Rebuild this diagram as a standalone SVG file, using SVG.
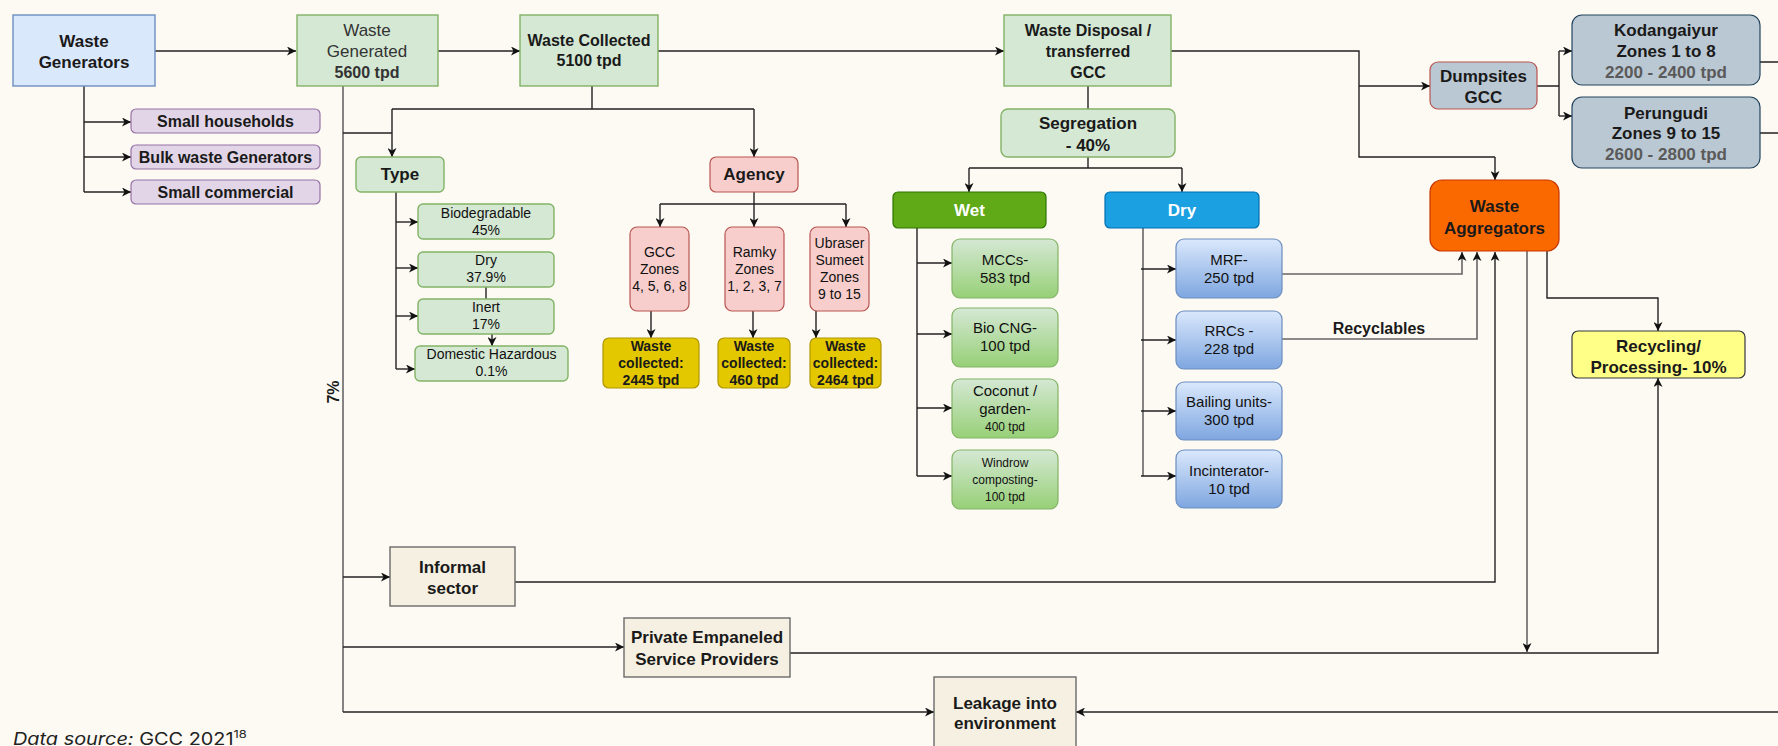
<svg xmlns="http://www.w3.org/2000/svg" width="1778" height="746" viewBox="0 0 1778 746">
<defs>
<marker id="ah" markerUnits="userSpaceOnUse" markerWidth="10" markerHeight="9" refX="9" refY="4.5" orient="auto">
<path d="M0,0 L9,4.5 L0,9 L2.5,4.5 z" fill="#111"/>
</marker>
<linearGradient id="gGreen" x1="0" y1="0" x2="0" y2="1">
<stop offset="0" stop-color="#d5e8d4"/><stop offset="1" stop-color="#97d077"/>
</linearGradient>
<linearGradient id="gBlue" x1="0" y1="0" x2="0" y2="1">
<stop offset="0" stop-color="#dae8fc"/><stop offset="1" stop-color="#7ea6e0"/>
</linearGradient>
<style>
text{font-family:"Liberation Sans",Arial,sans-serif;text-anchor:middle;fill:#1a1a1a}
.b{font-weight:bold}
.f17{font-size:17px}.f16{font-size:16px}.f15{font-size:15px}.f14{font-size:14px}.f12{font-size:12px}
.ln{fill:none;stroke:#222;stroke-width:1.4}
.lg{fill:none;stroke:#666;stroke-width:1.6}
.arr{marker-end:url(#ah)}
.blue{fill:#dae8fc;stroke:#6c8ebf;stroke-width:1.4}
.green{fill:#d5e8d4;stroke:#82b366;stroke-width:1.4}
.purple{fill:#e1d5e7;stroke:#9673a6;stroke-width:1.2}
.pink{fill:#f8cecc;stroke:#b85450;stroke-width:1.2}
.yel{fill:#e3c800;stroke:#b09500;stroke-width:1.2}
.gg{fill:url(#gGreen);stroke:#82b366;stroke-width:1.2}
.gb{fill:url(#gBlue);stroke:#6c8ebf;stroke-width:1.2}
.slate{fill:#bac8d3;stroke:#23445d;stroke-width:1.2}
.beige{fill:#f5f0e1;stroke:#6a6a6a;stroke-width:1.4}
.w{fill:#fff}
.grey{fill:#5a5a5a}
.dk{fill:#111}
</style>
</defs>
<rect x="0" y="0" width="1778" height="746" fill="#fdfaf3"/>

<g id="connectors">
<path class="ln arr" d="M155,51 H296"/>
<path class="ln arr" d="M438,51 H520"/>
<path class="ln arr" d="M658,51 H1004"/>
<path class="ln" d="M84,86 V192"/>
<path class="ln arr" d="M84,122 H131"/>
<path class="ln arr" d="M84,157 H131"/>
<path class="ln arr" d="M84,192 H131"/>
<path class="ln" d="M592,86 V109 M392,109 H754"/>
<path class="ln arr" d="M392,109 V157"/>
<path class="ln arr" d="M754,109 V157"/>
<path class="lg" d="M343,86 V712"/>
<path class="ln arr" d="M343,712 H934"/>
<path class="ln" d="M343,133 H392"/>
<path class="ln arr" d="M343,577 H390"/>
<path class="ln arr" d="M343,647 H624"/>
<path class="ln" d="M396,192 V369"/>
<path class="ln arr" d="M396,222 H418"/>
<path class="ln arr" d="M396,268 H418"/>
<path class="ln arr" d="M396,316 H418"/>
<path class="ln arr" d="M396,369 H415"/>
<path class="ln" d="M486,287 V299"/>
<path class="ln arr" d="M492,334 V346"/>
<path class="ln" d="M754,192 V204 M660,204 H846"/>
<path class="ln arr" d="M660,204 V227"/>
<path class="ln arr" d="M754,204 V227"/>
<path class="ln arr" d="M846,204 V227"/>
<path class="ln arr" d="M651,311 V338"/>
<path class="ln arr" d="M753,311 V338"/>
<path class="ln arr" d="M816,311 V338"/>
<path class="ln" d="M1088,86 V109"/>
<path class="ln" d="M1088,157 V168 M969,168 H1182"/>
<path class="ln arr" d="M969,168 V192"/>
<path class="ln arr" d="M1182,168 V192"/>
<path class="ln" d="M917,228 V476"/>
<path class="ln arr" d="M917,263 H952"/>
<path class="ln arr" d="M917,334 H952"/>
<path class="ln arr" d="M917,408 H952"/>
<path class="ln arr" d="M917,476 H952"/>
<path class="lg" d="M1143,228 V476"/>
<path class="ln arr" d="M1141,269 H1176"/>
<path class="ln arr" d="M1141,340 H1176"/>
<path class="ln arr" d="M1141,411 H1176"/>
<path class="ln arr" d="M1141,476 H1176"/>
<path class="lg arr" d="M1282,274 H1462 V252"/>
<path class="lg arr" d="M1282,339 H1477 V252"/>
<path class="ln" d="M1171,51 H1359 V157 H1495"/>
<path class="ln arr" d="M1495,157 V180"/>
<path class="ln arr" d="M1359,86 H1430"/>
<path class="ln" d="M1537,86 H1559 M1559,51 V116"/>
<path class="ln arr" d="M1559,51 H1572"/>
<path class="ln arr" d="M1559,116 H1572"/>
<path class="ln" d="M1760,62 H1778 M1760,133 H1778"/>
<path class="ln arr" d="M515,582 H1495 V252"/>
<path class="lg arr" d="M1527,251 V652"/>
<path class="ln arr" d="M1547,251 V298 H1658 V331"/>
<path class="ln arr" d="M790,653 H1658 V378"/>
<path class="ln arr" d="M1778,712 H1076"/>
<text class="b f16" x="1379" y="334">Recyclables</text>
<text class="b f16" transform="translate(339,392) rotate(-90)">7%</text>
</g>

<g id="waste-generators"><rect class="blue" x="13" y="15" width="142" height="71"/>
<text class="b f17" x="84" y="47">Waste</text><text class="b f17" x="84" y="68">Generators</text></g>
<g id="small-households"><rect class="purple" x="131" y="109" width="189" height="24" rx="5"/><text class="b f16" x="225.5" y="127">Small households</text></g>
<g id="bulk-waste"><rect class="purple" x="131" y="145" width="189" height="24" rx="5"/><text class="b f16" x="225.5" y="163">Bulk waste Generators</text></g>
<g id="small-commercial"><rect class="purple" x="131" y="180" width="189" height="24" rx="5"/><text class="b f16" x="225.5" y="198">Small commercial</text></g>

<g id="waste-generated"><rect class="green" x="297" y="15" width="141" height="71"/>
<text class="f17" x="367" y="36" style="fill:#333">Waste</text><text class="f17" x="367" y="57" style="fill:#333">Generated</text><text class="b f16" x="367" y="78" style="fill:#333">5600 tpd</text></g>
<g id="waste-collected"><rect class="green" x="520" y="15" width="138" height="71"/>
<text class="b f16" x="589" y="46">Waste Collected</text><text class="b f16" x="589" y="66">5100 tpd</text></g>

<g id="type"><rect class="green" x="356" y="157" width="88" height="35" rx="5"/><text class="b f17" x="400" y="180">Type</text></g>
<g id="biodegradable"><rect class="green" x="418" y="204" width="136" height="35" rx="5"/><text class="f14 dk" x="486" y="218">Biodegradable</text><text class="f14 dk" x="486" y="235">45%</text></g>
<g id="dry-type"><rect class="green" x="418" y="252" width="136" height="35" rx="5"/><text class="f14 dk" x="486" y="265">Dry</text><text class="f14 dk" x="486" y="282">37.9%</text></g>
<g id="inert"><rect class="green" x="418" y="299" width="136" height="35" rx="5"/><text class="f14 dk" x="486" y="312">Inert</text><text class="f14 dk" x="486" y="329">17%</text></g>
<g id="domestic-hazardous"><rect class="green" x="415" y="346" width="153" height="35" rx="5"/><text class="f14 dk" x="491.5" y="359">Domestic Hazardous</text><text class="f14 dk" x="491.5" y="376">0.1%</text></g>

<g id="agency"><rect class="pink" x="710" y="157" width="88" height="35" rx="6"/><text class="b f17" x="754" y="180">Agency</text></g>
<g id="gcc-zones"><rect class="pink" x="630" y="227" width="59" height="84" rx="7"/><text class="f14 dk" x="659.5" y="257">GCC</text><text class="f14 dk" x="659.5" y="274">Zones</text><text class="f14 dk" x="659.5" y="291">4, 5, 6, 8</text></g>
<g id="ramky-zones"><rect class="pink" x="725" y="227" width="59" height="84" rx="7"/><text class="f14 dk" x="754.5" y="257">Ramky</text><text class="f14 dk" x="754.5" y="274">Zones</text><text class="f14 dk" x="754.5" y="291">1, 2, 3, 7</text></g>
<g id="ubraser-zones"><rect class="pink" x="810" y="227" width="59" height="84" rx="7"/><text class="f14 dk" x="839.5" y="248">Ubraser</text><text class="f14 dk" x="839.5" y="265">Sumeet</text><text class="f14 dk" x="839.5" y="282">Zones</text><text class="f14 dk" x="839.5" y="299">9 to 15</text></g>
<g id="gcc-collected"><rect class="yel" x="603" y="338" width="96" height="50" rx="6"/><text class="b f14" x="651" y="351">Waste</text><text class="b f14" x="651" y="368">collected:</text><text class="b f14" x="651" y="385">2445 tpd</text></g>
<g id="ramky-collected"><rect class="yel" x="718" y="338" width="72" height="50" rx="6"/><text class="b f14" x="754" y="351">Waste</text><text class="b f14" x="754" y="368">collected:</text><text class="b f14" x="754" y="385">460 tpd</text></g>
<g id="ubraser-collected"><rect class="yel" x="810" y="338" width="71" height="50" rx="6"/><text class="b f14" x="845.5" y="351">Waste</text><text class="b f14" x="845.5" y="368">collected:</text><text class="b f14" x="845.5" y="385">2464 tpd</text></g>

<g id="waste-disposal"><rect class="green" x="1004" y="15" width="167" height="71"/>
<text class="b f16" x="1088" y="36">Waste Disposal /</text><text class="b f16" x="1088" y="57">transferred</text><text class="b f16" x="1088" y="78">GCC</text></g>
<g id="segregation"><rect class="green" x="1001" y="109" width="174" height="48" rx="7"/><text class="b f17" x="1088" y="129">Segregation</text><text class="b f17" x="1088" y="151">- 40%</text></g>
<g id="wet"><rect x="893" y="192" width="153" height="36" rx="5" fill="#60a917" stroke="#2d7600" stroke-width="1.2"/><text class="b f17 w" x="969.5" y="216">Wet</text></g>
<g id="dry"><rect x="1105" y="192" width="154" height="36" rx="5" fill="#1ba1e2" stroke="#006eaf" stroke-width="1.2"/><text class="b f17 w" x="1182" y="216">Dry</text></g>

<g id="mccs"><rect class="gg" x="952" y="239" width="106" height="59" rx="8"/><text class="f15 dk" x="1005" y="265">MCCs-</text><text class="f15 dk" x="1005" y="283">583 tpd</text></g>
<g id="bio-cng"><rect class="gg" x="952" y="308" width="106" height="59" rx="8"/><text class="f15 dk" x="1005" y="333">Bio CNG-</text><text class="f15 dk" x="1005" y="351">100 tpd</text></g>
<g id="coconut"><rect class="gg" x="952" y="379" width="106" height="59" rx="8"/><text class="f15 dk" x="1005" y="396">Coconut /</text><text class="f15 dk" x="1005" y="414">garden-</text><text class="f12 dk" x="1005" y="431">400 tpd</text></g>
<g id="windrow"><rect class="gg" x="952" y="450" width="106" height="59" rx="8"/><text class="f12 dk" x="1005" y="467">Windrow</text><text class="f12 dk" x="1005" y="484">composting-</text><text class="f12 dk" x="1005" y="501">100 tpd</text></g>

<g id="mrf"><rect class="gb" x="1176" y="239" width="106" height="59" rx="8"/><text class="f15 dk" x="1229" y="265">MRF-</text><text class="f15 dk" x="1229" y="283">250 tpd</text></g>
<g id="rrcs"><rect class="gb" x="1176" y="311" width="106" height="58" rx="8"/><text class="f15 dk" x="1229" y="336">RRCs -</text><text class="f15 dk" x="1229" y="354">228 tpd</text></g>
<g id="bailing"><rect class="gb" x="1176" y="382" width="106" height="58" rx="8"/><text class="f15 dk" x="1229" y="407">Bailing units-</text><text class="f15 dk" x="1229" y="425">300 tpd</text></g>
<g id="incinerator"><rect class="gb" x="1176" y="450" width="106" height="58" rx="8"/><text class="f15 dk" x="1229" y="476">Incinterator-</text><text class="f15 dk" x="1229" y="494">10 tpd</text></g>

<g id="dumpsites"><rect x="1430" y="62" width="107" height="47" rx="8" fill="#bac8d3" stroke="#b85450" stroke-width="1.2"/><text class="b f17" x="1483.5" y="82">Dumpsites</text><text class="b f17" x="1483.5" y="103">GCC</text></g>
<g id="kodangaiyur"><rect class="slate" x="1572" y="15" width="188" height="70" rx="10"/><text class="b f17" x="1666" y="36">Kodangaiyur</text><text class="b f17" x="1666" y="57">Zones 1 to 8</text><text class="b f17 grey" x="1666" y="78">2200 - 2400 tpd</text></g>
<g id="perungudi"><rect class="slate" x="1572" y="97" width="188" height="71" rx="10"/><text class="b f17" x="1666" y="119">Perungudi</text><text class="b f17" x="1666" y="139">Zones 9 to 15</text><text class="b f17 grey" x="1666" y="160">2600 - 2800 tpd</text></g>
<g id="waste-aggregators"><rect x="1430" y="180" width="129" height="71" rx="12" fill="#fa6800" stroke="#c73500" stroke-width="1.2"/><text class="b f17" x="1494.5" y="212">Waste</text><text class="b f17" x="1494.5" y="234">Aggregators</text></g>
<g id="recycling"><rect x="1572" y="331" width="173" height="47" rx="6" fill="#ffff88" stroke="#36393d" stroke-width="1.2"/><text class="b f17" x="1658.5" y="352">Recycling/</text><text class="b f17" x="1658.5" y="373">Processing- 10%</text></g>

<g id="informal-sector"><rect class="beige" x="390" y="547" width="125" height="59"/><text class="b f17" x="452.5" y="573">Informal</text><text class="b f17" x="452.5" y="594">sector</text></g>
<g id="private-providers"><rect class="beige" x="624" y="618" width="166" height="59"/><text class="b f17" x="707" y="643">Private Empaneled</text><text class="b f17" x="707" y="665">Service Providers</text></g>
<g id="leakage"><rect class="beige" x="934" y="677" width="142" height="72"/><text class="b f17" x="1005" y="709">Leakage into</text><text class="b f17" x="1005" y="729">environment</text></g>

<text x="13" y="745" transform="translate(13,0) scale(1.17,1) translate(-13,0)" style="font-family:Inter,'Noto Sans',sans-serif;font-size:17px;text-anchor:start;fill:#222"><tspan font-style="italic">Data source:</tspan> GCC 2021<tspan font-size="11" dy="-7">18</tspan></text>
</svg>
